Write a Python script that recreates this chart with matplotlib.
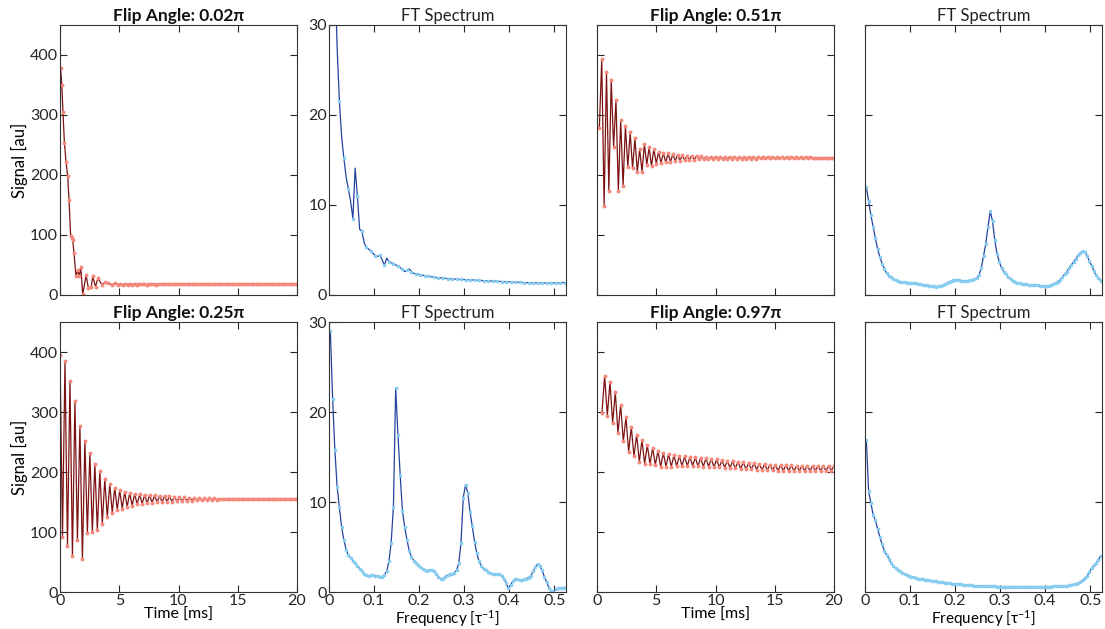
import numpy as np
import matplotlib.pyplot as plt

plt.rcParams['font.family'] = ['Lato', 'DejaVu Sans']
plt.rcParams['mathtext.default'] = 'regular'

# ---- time signals [au] ----
# 0.02 pi : first ms read point by point, then one point every 0.2 ms from 5.1 ms
sig_002_t_early = [0.05, 0.15, 0.25, 0.37, 0.51, 0.65, 0.76, 0.9, 1.0, 1.07, 1.18, 1.35,
                   1.5, 1.63, 1.75, 1.92, 2.2, 2.4, 2.64, 2.76, 3.0, 3.2, 3.55, 3.83,
                   4.05, 4.38, 4.65, 4.9]
sig_002_early = [378, 350, 305, 254, 221, 198, 159, 98, 95, 92, 70, 31,
                 42, 31, 47, 1, 33, 11, 14, 31, 14, 28, 17, 21,
                 20.5, 17, 19.5, 17.5]
sig_002_late = [18.9, 17.4, 18.8, 17.5, 18.8, 17.4, 18.9, 17.5, 18.7, 17.6, 18.8, 17.5, 18.7,
                17.6, 18.8, 17.5, 18.7, 17.6, 18.6, 17.6, 18.7, 17.6, 18.6, 17.7, 18.6, 17.6,
                18.7, 17.7, 18.6, 17.6, 18.6, 17.7, 18.5, 17.7, 18.6, 17.7, 18.5, 17.8, 18.6,
                17.7, 18.5, 17.8, 18.5, 17.7, 18.6, 17.8, 18.5, 17.8, 18.5, 17.7, 18.5, 17.8,
                18.4, 17.8, 18.5, 17.8, 18.4, 17.9, 18.5, 17.8, 18.4, 17.9, 18.4, 17.8, 18.5,
                17.9, 18.4, 17.9, 18.4, 17.8, 18.4, 17.9, 18.4, 17.9, 18.3]

# 0.25 pi : from 0 ms, 0.21 ms apart
sig_025 = [395, 92, 385, 77, 352, 60, 318, 87, 277, 55, 252, 99, 232, 100, 214, 104,
           202, 114, 188, 125, 180, 132, 174, 137, 170, 139, 167, 142, 165, 144, 164, 146,
           163, 147, 162, 148, 161.5, 149, 161, 149.5, 160.5, 150, 160, 150.5, 159.5, 150.5,
           159, 151, 158, 151.5, 157.8, 152, 157.5, 152.5, 157.2, 153, 156.8, 153.2, 156.5,
           153.5, 156.2, 153.8, 156, 154, 155.8, 154.2, 155.7, 154.3, 155.6, 154.4, 155.6,
           154.5, 155.5, 154.6, 155.5, 154.6, 155.4, 154.7, 155.4, 154.7, 155.4, 154.8, 155.3,
           154.8, 155.3, 154.8, 155.3, 154.9, 155.3, 154.9, 155.2, 154.9, 155.2, 154.9, 155.2, 155.0]

# 0.51 pi : from 0.2 ms, 0.2 ms apart
sig_051 = [279, 393, 149, 371, 174, 359, 247, 325, 174, 292, 182, 282, 213, 271, 211, 261,
           205, 243, 205, 252, 217, 246, 215, 244, 219, 239, 220, 237, 221, 236, 222, 235,
           223, 234, 224, 233, 224.5, 232.5, 225, 232, 225.5, 231.5, 226, 231, 226.5, 230.5,
           226.5, 230, 227, 230, 227.2, 229.8, 227.2, 229.8, 227.3, 229.7, 227.3, 229.7, 227.4,
           229.6, 227.4, 229.6, 227.5, 229.5, 227.5, 229.5, 227.5, 229.5, 227.6, 229.4, 227.6,
           229.4, 227.6, 229.4, 227.7, 229.3, 227.7, 229.3, 227.7, 229.3, 227.8, 229.3, 227.8,
           229.2, 227.8, 229.2, 227.8, 229.2, 227.9, 229.2, 227.9, 229.1, 227.9, 229.1, 227.9,
           229.1, 228.0, 229.1, 228.0, 229.0]

# 0.97 pi : from 0.42 ms, 0.225 ms apart
sig_097 = [299, 360, 294, 350, 282, 333, 265, 312, 251, 291, 234, 275, 226, 262, 217, 253,
           214, 245, 213, 240, 212, 235, 209, 232, 209, 230, 209, 228, 209.5, 227, 210, 226,
           210, 225, 210, 224.5, 209.5, 224, 209, 223, 209, 222, 208.5, 221, 208, 219.5, 207.5,
           218.5, 207, 218, 206, 217, 205.5, 216, 205, 215, 204.5, 214.5, 204, 214, 203.5, 213,
           203, 212.5, 203, 212, 202.5, 211.5, 202.5, 211, 202, 211, 202, 210.5, 202, 210.5,
           202, 210.5, 202, 210, 202, 210, 202, 210, 202, 210, 202.5, 210]

# ---- FT spectra, frequency grid in 1/tau ----
ft_002 = [70, 50, 37, 27.5, 21.6, 17.6, 15.2, 13.1, 11.8, 10.4, 8.5, 14.1, 11.0, 7.3, 7.1,
          5.8, 5.3, 5.1, 4.9, 4.6, 4.35, 4.3, 4.4, 3.9, 3.3, 4.1, 3.7, 3.6, 3.5, 3.35, 3.2,
          3.05, 2.85, 2.6, 2.75, 2.9, 2.6, 2.4, 2.35, 2.3, 2.25, 2.2, 2.15, 2.1, 2.06, 2.02,
          1.98, 1.95, 1.92, 1.9, 1.87, 1.85, 1.83, 1.81, 1.79, 1.77, 1.75, 1.74, 1.73, 1.72,
          1.7, 1.69, 1.68, 1.67, 1.66, 1.64, 1.63, 1.61, 1.6, 1.58, 1.57, 1.56, 1.55, 1.54,
          1.52, 1.51, 1.5, 1.5, 1.49, 1.47, 1.46, 1.44, 1.43, 1.42, 1.4, 1.39, 1.38, 1.37,
          1.36, 1.36, 1.35, 1.35, 1.34, 1.34, 1.34, 1.33, 1.34, 1.34, 1.34, 1.34, 1.34, 1.35,
          1.36, 1.38, 1.38]
ft_025 = [29.0, 21.5, 15.8, 11.7, 9.4, 7.2, 5.8, 4.7, 4.1, 3.8, 3.5, 3.2, 2.9, 2.6, 2.3,
          2.0, 1.9, 1.8, 1.85, 1.85, 1.8, 1.75, 1.7, 1.7, 1.9, 2.3, 3.4, 5.5, 9.5, 22.7, 17.5,
          13.0, 9.0, 7.2, 5.8, 4.6, 3.9, 3.5, 3.2, 3.0, 2.8, 2.6, 2.45, 2.35, 2.4, 2.5, 2.35,
          2.0, 1.7, 1.45, 1.5, 1.7, 1.85, 1.95, 2.05, 2.1, 2.4, 3.2, 5.5, 10.5, 11.9, 11.0,
          8.9, 7.3, 5.6, 4.3, 3.4, 2.9, 2.6, 2.4, 2.25, 2.1, 2.0, 1.95, 2.0, 2.0, 1.8, 1.5,
          1.0, 0.4, 0.8, 1.2, 1.4, 1.4, 1.35, 1.3, 1.4, 1.5, 1.6, 1.8, 2.3, 2.8, 3.1, 2.9,
          2.4, 1.7, 1.1, 0.5, 0.1, 0.05, 0.3, 0.4, 0.45, 0.5, 0.5]
ft_051 = [12.0, 10.4, 8.9, 7.6, 6.3, 5.1, 4.2, 3.5, 2.9, 2.4, 2.15, 1.95, 1.8, 1.65, 1.55,
          1.5, 1.45, 1.4, 1.38, 1.35, 1.32, 1.3, 1.28, 1.25, 1.2, 1.15, 1.12, 1.08, 1.03,
          0.98, 0.95, 0.93, 0.95, 1.0, 1.1, 1.22, 1.35, 1.48, 1.6, 1.68, 1.7, 1.66, 1.6, 1.57,
          1.57, 1.6, 1.63, 1.67, 1.75, 1.9, 2.2, 3.0, 4.3, 5.7, 7.6, 9.3, 8.2, 6.1, 4.6, 3.7,
          3.0, 2.6, 2.3, 2.0, 1.75, 1.57, 1.45, 1.37, 1.3, 1.25, 1.2, 1.18, 1.15, 1.13, 1.12,
          1.1, 1.08, 1.05, 1.03, 1.0, 1.0, 1.05, 1.12, 1.2, 1.35, 1.5, 1.7, 1.95, 2.3, 2.6,
          3.0, 3.35, 3.7, 4.05, 4.4, 4.7, 4.85, 4.75, 4.35, 3.8, 3.25, 2.7, 2.2, 1.9, 1.6]
ft_097 = [16.9, 11.2, 9.9, 8.6, 8.0, 7.0, 6.1, 5.3, 4.6, 4.1, 3.7, 3.2, 2.9, 2.65, 2.45,
          2.3, 2.15, 2.0, 1.9, 1.8, 1.7, 1.62, 1.55, 1.5, 1.45, 1.4, 1.36, 1.33, 1.3, 1.26,
          1.22, 1.18, 1.14, 1.1, 1.07, 1.03, 1.0, 0.97, 0.94, 0.92, 0.9, 0.87, 0.84, 0.81,
          0.79, 0.77, 0.75, 0.73, 0.71, 0.7, 0.69, 0.68, 0.67, 0.66, 0.65, 0.64, 0.63, 0.62,
          0.61, 0.6, 0.6, 0.61, 0.6, 0.59, 0.6, 0.61, 0.6, 0.6, 0.59, 0.6, 0.61, 0.6, 0.6, 0.6,
          0.59, 0.6, 0.61, 0.6, 0.6, 0.6, 0.61, 0.6, 0.61, 0.62, 0.62, 0.63, 0.64, 0.65, 0.66,
          0.7, 0.75, 0.8, 0.85, 0.92, 1.0, 1.12, 1.3, 1.55, 1.8, 2.2, 2.65, 2.95, 3.2, 3.6, 4.0]

titles = ['Flip Angle: 0.02\u03c0', 'Flip Angle: 0.25\u03c0', 'Flip Angle: 0.51\u03c0', 'Flip Angle: 0.97\u03c0']
time_ticks = [0, 5, 10, 15, 20]
sig_ticks = [0, 100, 200, 300, 400]
freq_ticks = [0, 0.1, 0.2, 0.3, 0.4, 0.5]
freq_labels = ['0', '0.1', '0.2', '0.3', '0.4', '0.5']
ft_ticks = [0, 10, 20, 30]

red_line, red_mark = '#7d1212', '#f4887b'
blue_line, blue_mark = '#2444a0', '#86cdf0'


def t_axis(t0, dt, vals):
    return t0 + dt * np.arange(len(vals))


t_002 = np.concatenate([sig_002_t_early, t_axis(5.1, 0.2, sig_002_late)])
v_002 = np.concatenate([sig_002_early, sig_002_late])
signals = [(t_002, v_002),
           (t_axis(0.0, 0.21, sig_025), np.array(sig_025)),
           (t_axis(0.2, 0.2, sig_051), np.array(sig_051)),
           (t_axis(0.42, 0.225, sig_097), np.array(sig_097))]
spectra = [ft_002, ft_025, ft_051, ft_097]

W, H = 1105, 629
fig = plt.figure(figsize=(W / 100, H / 100), dpi=100)

lefts = [60, 329, 597, 865]
tops = [25, 322]
aw, ah = 237, 270

for i in range(4):
    row = i % 2
    pair = i // 2
    top = tops[row]

    # time signal
    ax = fig.add_axes([lefts[2 * pair] / W, 1 - (top + ah) / H, aw / W, ah / H])
    t, v = signals[i]
    ax.plot(t, v, '-', color=red_line, lw=0.9, marker='o', ms=2.8,
            mfc=red_mark, mec=red_mark, mew=0)
    ax.set_xlim(0, 20)
    ax.set_ylim(0, 450)
    ax.set_xticks(time_ticks)
    ax.set_yticks(sig_ticks)
    ax.set_title(titles[i], fontsize=12.5, fontweight='bold', pad=3, color='#111111')
    ax.tick_params(labelbottom=(row == 1), labelleft=(pair == 0))
    if pair == 0:
        ax.set_ylabel('Signal [au]', fontsize=12, labelpad=1)
    if row == 1:
        ax.set_xlabel('Time [ms]', fontsize=11.5, labelpad=0)

    # spectrum
    ax = fig.add_axes([lefts[2 * pair + 1] / W, 1 - (top + ah) / H, aw / W, ah / H])
    vals = spectra[i]
    f = 0.003 + 0.005 * np.arange(len(vals))
    # the 0.02 pi spectrum shows its markers more sparsely
    every = 2 if i == 0 else 1
    ax.plot(f, vals, '-', color=blue_line, lw=0.9, marker='o', ms=2.6, markevery=every,
            mfc=blue_mark, mec=blue_mark, mew=0)
    ax.set_xlim(0, 0.526)
    ax.set_ylim(0, 30)
    ax.set_xticks(freq_ticks)
    ax.set_xticklabels(freq_labels)
    ax.set_yticks(ft_ticks)
    ax.set_title('FT Spectrum', fontsize=12, pad=3, color='#222222')
    ax.tick_params(labelbottom=(row == 1), labelleft=(pair == 0))
    if row == 1:
        ax.set_xlabel('Frequency [\u03c4$^{-1}$]', fontsize=11, labelpad=0)

for ax in fig.axes:
    ax.tick_params(direction='in', top=True, right=True, length=5, width=0.8,
                   labelsize=11.5, colors='#262626', pad=1.5)
    for s in ax.spines.values():
        s.set_linewidth(0.8)
        s.set_color('#333333')

fig.savefig('out.png', dpi=100)
